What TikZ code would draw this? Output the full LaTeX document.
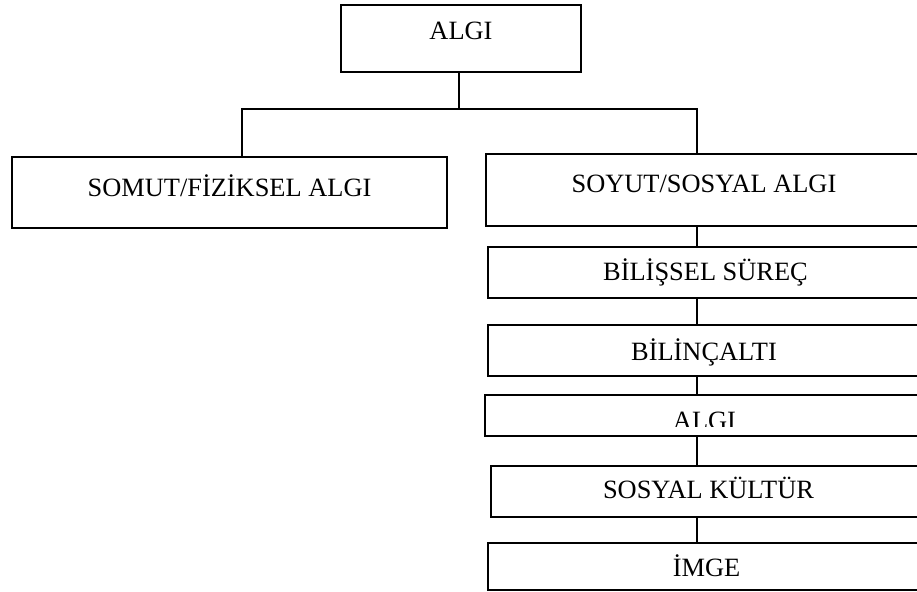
\documentclass[tikz,border=0pt]{standalone}
\usepackage{fontspec}
\setmainfont{Liberation Serif}
\begin{document}
\begin{tikzpicture}[x=1pt,y=-1pt,
  box/.style={draw, line width=1.5pt, inner sep=0pt, outer sep=0pt,
    anchor=north west, font=\fontsize{26.4}{30}\selectfont},
  conn/.style={line width=1.1pt}]
\useasboundingbox (0,0) rectangle (917,591);
\clip (0,0) rectangle (917,591);

% top level
\node[box, minimum width=240pt, text height=35pt, text depth=32pt] (top) at (341,5) {ALGI};

% second level
\node[box, minimum width=435pt, text height=39pt, text depth=32pt] (somut) at (12,157) {SOMUT/FİZİKSEL ALGI};
\node[box, minimum width=436pt, text height=38pt, text depth=34pt] (soyut) at (486,154) {SOYUT/SOSYAL ALGI};

% chain under the abstract branch
\node[box, minimum width=435pt, text height=33pt, text depth=18pt] (bilissel) at (488,247) {BİLİŞSEL SÜREÇ};
\node[box, minimum width=432pt, text height=35pt, text depth=16pt] (bilincalti) at (488,325) {BİLİNÇALTI};
\node[box, minimum width=439pt, minimum height=41pt] (algi) at (485,395) {};
\node[box, minimum width=435pt, text height=32pt, text depth=19pt] (kultur) at (491,466) {SOSYAL KÜLTÜR};
\node[box, minimum width=437pt, text height=33pt, text depth=14pt] (imge) at (488,543) {İMGE};

% label of the fourth box, cut off along its lower part
\begin{scope}
  \clip (485,395) rectangle (924,426);
  \node[font=\fontsize{26.4}{30}\selectfont, inner sep=0pt, anchor=base] (algitext) at (704.5,429.5) {ALGI};
\end{scope}

% connectors
\coordinate (hub) at (459,109);
\coordinate (lb) at (242,109);
\coordinate (rb) at (697,109);
\draw[conn] (hub |- top.south) -- (hub);
\draw[conn] (somut.north -| lb) -- (lb) -- (rb) -- (soyut.north -| rb);
\draw[conn] (soyut.south -| rb) -- (bilissel.north -| rb);
\draw[conn] (bilissel.south -| rb) -- (bilincalti.north -| rb);
\draw[conn] (bilincalti.south -| rb) -- (algi.north -| rb);
\draw[conn] (algi.south -| rb) -- (kultur.north -| rb);
\draw[conn] (kultur.south -| rb) -- (imge.north -| rb);
\end{tikzpicture}
\end{document}
